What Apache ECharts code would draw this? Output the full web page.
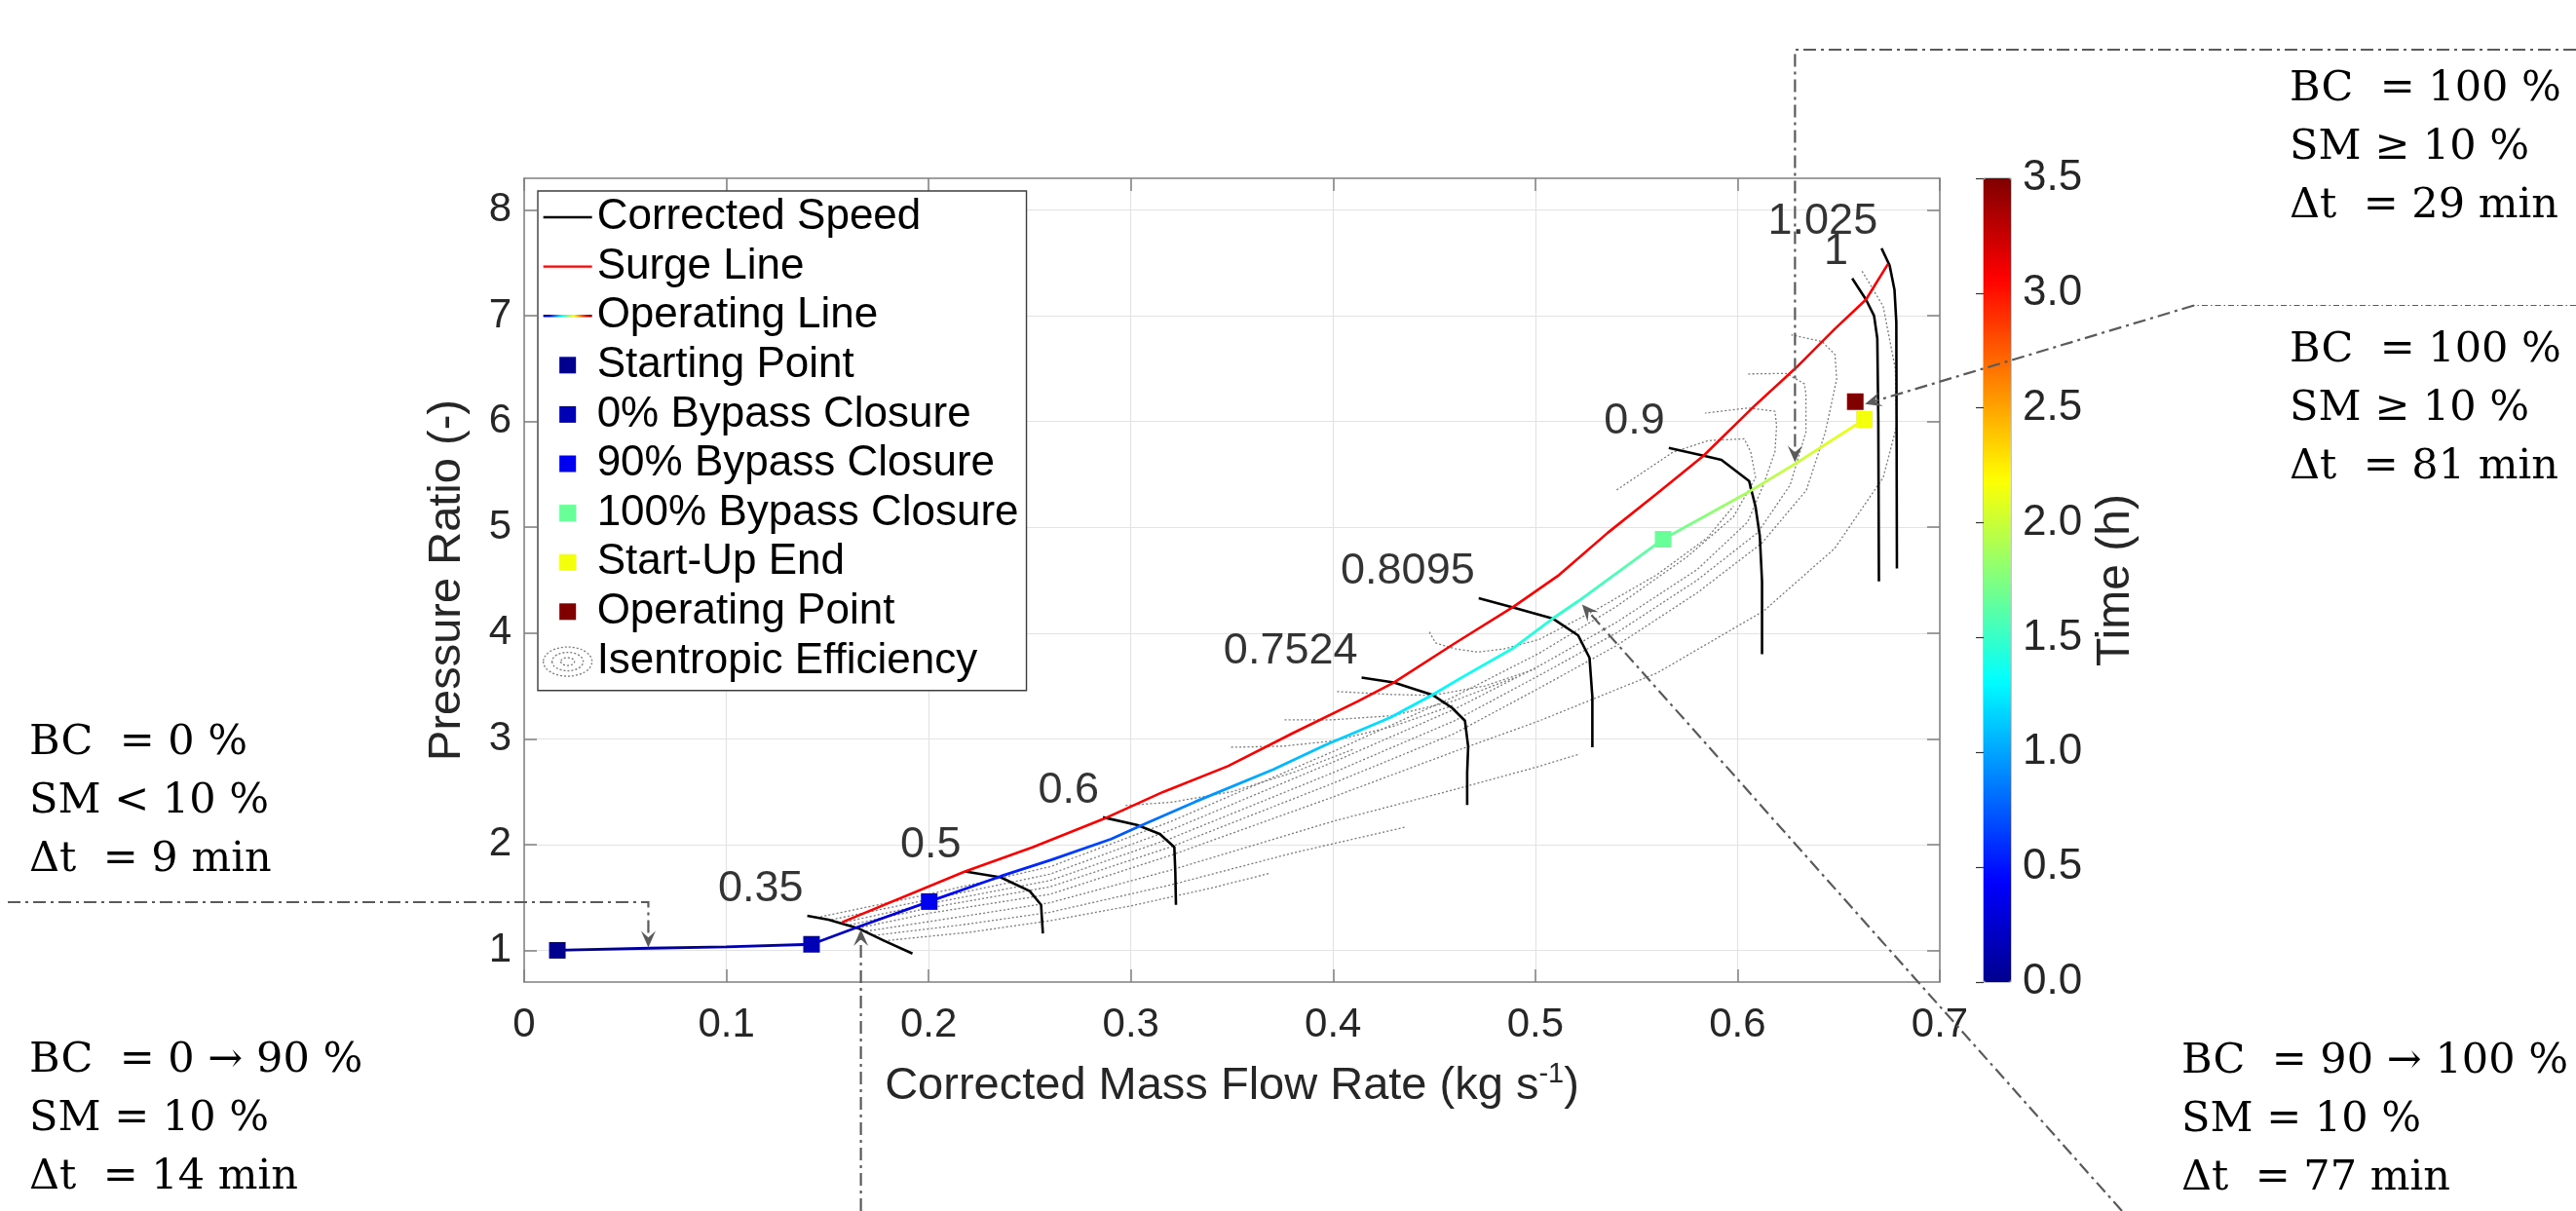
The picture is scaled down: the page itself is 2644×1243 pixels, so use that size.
<!DOCTYPE html>
<html>
<head>
<meta charset="utf-8">
<script src="https://cdn.jsdelivr.net/npm/echarts@6/dist/echarts.min.js"></script>
<style>
html,body{margin:0;padding:0;background:#ffffff;}
#chart{width:2644px;height:1243px;}
</style>
</head>
<body>
<div id="chart"></div>
<script>
// ---------------- DATA ----------------
const yTicks = [1, 2, 3, 4, 5, 6, 7, 8];

// Corrected speed lines [massFlow, pressureRatio]
const speedLabels = ['0.35', '0.5', '0.6', '0.7524', '0.8095', '0.9', '1', '1.025'];
const spd035 = [[0.140,1.326],[0.1505,1.29],[0.165,1.21],[0.178,1.09],[0.192,0.97]];
const spd050 = [[0.218,1.746],[0.2356,1.69],[0.25,1.56],[0.2556,1.43],[0.2565,1.16]];
const spd060 = [[0.2862,2.258],[0.303,2.185],[0.3143,2.10],[0.3215,1.976],[0.322,1.73],[0.3223,1.43]];
const spd07524 = [[0.4141,3.578],[0.43,3.532],[0.4491,3.416],[0.4588,3.293],[0.4652,3.171],[0.4668,2.926],[0.4663,2.68],[0.4663,2.374]];
const spd08095 = [[0.472,4.33],[0.4894,4.24],[0.5088,4.135],[0.5212,3.977],[0.5268,3.765],[0.5282,3.396],[0.5282,2.92]];
const spd090 = [[0.566,5.751],[0.5832,5.677],[0.592,5.637],[0.6057,5.438],[0.6089,5.193],[0.611,4.917],[0.6121,4.488],[0.6121,3.799]];
const spd100 = [[0.6567,7.353],[0.6635,7.153],[0.6675,7.0],[0.6691,6.786],[0.6696,6.02],[0.6699,4.488]];
const spd1025 = [[0.6712,7.638],[0.6752,7.475],[0.6776,7.245],[0.6785,6.94],[0.6788,4.611]];

// Surge line
const surgeLine = [[0.1572,1.265],[0.218,1.746],[0.2516,1.976],[0.2862,2.24],[0.3159,2.497],[0.348,2.742],
  [0.3801,3.054],[0.4122,3.355],[0.43,3.532],[0.4604,3.906],[0.4893,4.25],[0.5118,4.55],[0.5358,4.948],
  [0.5599,5.315],[0.5832,5.677],[0.6081,6.143],[0.629,6.51],[0.6482,6.878],[0.6635,7.153],[0.6744,7.491]];

// Operating line (mass flow, pressure ratio, time in h)
const opX = [0.0164,0.0622,0.0999,0.1421,0.1657,0.2003,0.2356,0.2613,0.2902,0.3046,0.3319,0.3705,0.3961,0.4283,0.4491,0.4636,0.4893,0.5085,0.5214,0.5632,0.6065,0.629,0.6627];
const opY = [1.0,1.02,1.032,1.057,1.225,1.461,1.70,1.86,2.052,2.176,2.405,2.711,2.941,3.201,3.416,3.58,3.86,4.136,4.304,4.887,5.346,5.607,6.02];
const opT = [0,0.055,0.10,0.15,0.25,0.383,0.52,0.60,0.70,0.78,0.92,1.05,1.12,1.22,1.28,1.33,1.40,1.46,1.50,1.667,1.90,2.00,2.15];

// Marked points
const markerNames = ['Starting Point','0% Bypass Closure','90% Bypass Closure','100% Bypass Closure','Start-Up End','Operating Point'];
const markerX = [0.0164, 0.1421, 0.2003, 0.5632, 0.6627, 0.6582];
const markerY = [1.0, 1.057, 1.461, 4.887, 6.02, 6.188];
const markerT = [0, 0.15, 0.3833, 1.6667, 2.15, 3.5];

// Isentropic efficiency contours
const effE1 = [[0.178,1.09],[0.22,1.17],[0.26,1.28],[0.30,1.42],[0.34,1.59],[0.369,1.73]];
const effE2 = [[0.173,1.14],[0.22,1.25],[0.26,1.36],[0.32,1.62],[0.38,1.92],[0.436,2.166]];
const effE3 = [[0.169,1.18],[0.22,1.33],[0.26,1.45],[0.32,1.76],[0.40,2.22],[0.46,2.52],[0.502,2.74],[0.522,2.857]];
const effW1 = [[0.165,1.21],[0.20,1.35],[0.26,1.53],[0.32,1.90],[0.40,2.45],[0.46,2.88],[0.502,3.17],[0.56,3.62],[0.613,4.21],[0.648,4.80],[0.672,5.47],[0.6787,5.96],[0.678,6.5],[0.672,7.09],[0.661,7.44]];
const effUj = [[0.161,1.24],[0.20,1.40],[0.26,1.60],[0.32,1.98],[0.40,2.58],[0.46,3.05],[0.502,3.48],[0.54,3.88],[0.58,4.38],[0.612,4.85],[0.634,5.35],[0.6434,5.9],[0.649,6.4],[0.6482,6.633],[0.6418,6.756],[0.6266,6.82]];
const effUi = [[0.157,1.26],[0.20,1.44],[0.26,1.66],[0.32,2.06],[0.40,2.68],[0.46,3.17],[0.502,3.60],[0.54,4.0],[0.58,4.5],[0.61,4.95],[0.626,5.4],[0.6338,5.9],[0.6338,6.265],[0.633,6.357],[0.6241,6.455],[0.605,6.45]];
const effUh = [[0.152,1.29],[0.20,1.48],[0.26,1.72],[0.32,2.14],[0.40,2.78],[0.46,3.28],[0.502,3.69],[0.54,4.1],[0.58,4.6],[0.605,5.05],[0.6129,5.407],[0.6185,5.714],[0.6193,5.959],[0.6185,6.097],[0.6049,6.128],[0.584,6.08]];
const effUg = [[0.1465,1.317],[0.20,1.53],[0.26,1.79],[0.32,2.22],[0.40,2.88],[0.46,3.40],[0.502,3.81],[0.54,4.25],[0.575,4.72],[0.598,5.1],[0.6089,5.469],[0.6065,5.714],[0.6033,5.836],[0.5856,5.82],[0.568,5.71],[0.54,5.35]];
const effA = [[0.4476,4.01],[0.4507,3.906],[0.4604,3.851],[0.4716,3.82],[0.4845,3.85],[0.502,3.94],[0.53,4.22],[0.56,4.55],[0.585,4.9],[0.598,5.2]];
const effUb = [[0.2974,2.37],[0.32,2.40],[0.35,2.50],[0.38,2.68],[0.41,2.90]];
const effUc = [[0.3496,2.92],[0.375,2.93],[0.40,2.98],[0.43,3.12],[0.46,3.32]];
const effUd = [[0.376,3.18],[0.40,3.18],[0.43,3.22],[0.46,3.36],[0.49,3.58]];
const effUe = [[0.402,3.447],[0.4283,3.42],[0.4491,3.41],[0.475,3.50],[0.50,3.66]];

// Annotations: text lines and target points on the operating line
const annTexts = [
  ['BC  = 0 %', 'SM < 10 %', 'Δt  = 9 min'],
  ['BC  = 0 → 90 %', 'SM = 10 %', 'Δt  = 14 min'],
  ['BC  = 90 → 100 %', 'SM = 10 %', 'Δt  = 77 min'],
  ['BC  = 100 %', 'SM ≥ 10 %', 'Δt  = 29 min'],
  ['BC  = 100 %', 'SM ≥ 10 %', 'Δt  = 81 min']
];
const annTargets = [[0.0614,1.027],[0.1665,1.198],[0.5231,4.27],[0.6284,5.614],[0.663,6.165]];

// ---------------- HELPERS ----------------
const jetStops = ['#00008F','#0000FF','#0080FF','#00FFFF','#80FF80','#FFFF00','#FF8000','#FF0000','#800000'];
const T_MAX = 3.5;
function hex2rgb(h){return [parseInt(h.substr(1,2),16),parseInt(h.substr(3,2),16),parseInt(h.substr(5,2),16)];}
function jet(f){
  f = Math.max(0, Math.min(1, f));
  const pos = f * (jetStops.length - 1);
  const i = Math.min(Math.floor(pos), jetStops.length - 2);
  const fr = pos - i;
  const a = hex2rgb(jetStops[i]), b = hex2rgb(jetStops[i+1]);
  const c = a.map((v,k)=>Math.round(v + (b[k]-v)*fr));
  return 'rgb(' + c.join(',') + ')';
}
const FONT = 'Liberation Sans, Arial, Helvetica, sans-serif';
const SERIF = 'DejaVu Serif, Liberation Serif, serif';

const chart = echarts.init(document.getElementById('chart'), null, {renderer: 'canvas'});

// operating line gradient along mass flow (monotonic)
const xmin = opX[0], xmax = opX[opX.length - 1];
const opStops = opX.map((x, i) => ({offset: (x - xmin) / (xmax - xmin), color: jet(opT[i] / T_MAX)}));
const opGradient = new echarts.graphic.LinearGradient(0, 0, 1, 0, opStops);
const legendGradient = new echarts.graphic.LinearGradient(0, 0, 1, 0,
  jetStops.map((c, i) => ({offset: i / (jetStops.length - 1), color: c})));

// legend icons (box 50 x 46)
const ICON_LINE = 'path://M0,0 M50,46 M0,21.8 L50,21.8 L50,24.2 L0,24.2 Z';
const ICON_SQ = 'path://M0,0 M50,46 M16.5,14.5 L33.5,14.5 L33.5,31.5 L16.5,31.5 Z';
const ICON_ELL = 'path://M0,0 M50,46 M0,23 A25,15 0 1,0 50,23 A25,15 0 1,0 0,23 Z M9,23 A16,9.5 0 1,0 41,23 A16,9.5 0 1,0 9,23 Z M18,23 A7,4 0 1,0 32,23 A7,4 0 1,0 18,23 Z';

const series = [];
// efficiency contours
[effE1, effE2, effE3, effW1, effUj, effUi, effUh, effUg, effA, effUb, effUc, effUd, effUe].forEach(d => {
  series.push({
    name: 'Isentropic Efficiency', type: 'line', xAxisIndex: 0, yAxisIndex: 0,
    data: d, showSymbol: false, symbol: 'none', silent: true, z: 2,
    lineStyle: {color: '#7a7a7a', width: 1.3, type: [2, 2.2]}
  });
});
// speed lines
const speeds = [spd035, spd050, spd060, spd07524, spd08095, spd090, spd100, spd1025];
speeds.forEach(d => {
  series.push({
    name: 'Corrected Speed', type: 'line', data: d, showSymbol: false, symbol: 'none', silent: true, z: 3,
    lineStyle: {color: '#000000', width: 2.6}
  });
});
// speed labels
series.push({
  name: 'speedLabels', type: 'scatter', silent: true, z: 6,
  symbolSize: 0.1, itemStyle: {color: 'rgba(0,0,0,0)'},
  data: speeds.map((d, i) => ({value: d[0], name: speedLabels[i]})),
  label: {show: true, position: 'left', distance: 4, offset: [0, -27], formatter: p => p.name,
    fontSize: 45, fontFamily: FONT, color: '#000'}
});
// surge line
series.push({
  name: 'Surge Line', type: 'line', data: surgeLine, showSymbol: false, symbol: 'none', silent: true, z: 4,
  lineStyle: {color: '#ff0000', width: 2.6}
});
// operating line
series.push({
  name: 'Operating Line', type: 'line', data: opX.map((x, i) => [x, opY[i]]), showSymbol: false, symbol: 'none',
  silent: true, z: 5, lineStyle: {color: opGradient, width: 2.8}
});
// markers
const markerSeriesIdx = [];
markerNames.forEach((n, i) => {
  markerSeriesIdx.push(series.length);
  series.push({
    name: n, type: 'scatter', symbol: 'rect', symbolSize: 17, silent: true, z: 7,
    itemStyle: {color: jet(markerT[i] / T_MAX), opacity: 1},
    data: [[markerX[i], markerY[i], markerT[i]]]
  });
});

const axisGray = '#808080';
const tickLabel = {fontSize: 42, fontFamily: FONT, color: '#262626'};

const option = {
  backgroundColor: '#ffffff',
  animation: false,
  grid: [
    {left: 538, top: 183, width: 1453, height: 825, containLabel: false},
    {left: 2036, top: 183, width: 28, height: 825, show: true, borderColor: '#8c8c8c', borderWidth: 1, backgroundColor: 'transparent'}
  ],
  xAxis: [
    {gridIndex: 0, type: 'value', min: 0, max: 0.7, interval: 0.1,
      name: 'Corrected Mass Flow Rate (kg s{sup|-1})', nameLocation: 'middle', nameGap: 80,
      nameTextStyle: {fontSize: 47, fontFamily: FONT, color: '#262626', lineHeight: 54,
        rich: {sup: {fontSize: 29, fontFamily: FONT, color: '#262626', verticalAlign: 'top', lineHeight: 54}}},
      axisLine: {show: true, onZero: false, lineStyle: {color: axisGray, width: 1.5}},
      axisTick: {show: true, inside: true, length: 13, lineStyle: {color: axisGray, width: 1.5}},
      axisLabel: Object.assign({margin: 23}, tickLabel),
      splitLine: {show: true, lineStyle: {color: '#e3e3e3', width: 1.2}}
    },
    {gridIndex: 0, type: 'value', position: 'top', min: 0, max: 0.7, interval: 0.1,
      axisLine: {show: true, onZero: false, lineStyle: {color: axisGray, width: 1.5}},
      axisTick: {show: true, inside: true, length: 13, lineStyle: {color: axisGray, width: 1.5}},
      axisLabel: {show: false}, splitLine: {show: false}
    },
    {gridIndex: 1, type: 'value', min: 0, max: 1, show: false}
  ],
  yAxis: [
    {gridIndex: 0, type: 'value', min: 0.7, max: 8.3,
      name: 'Pressure Ratio (-)', nameLocation: 'middle', nameGap: 55, nameRotate: 90,
      nameTextStyle: {fontSize: 47, fontFamily: FONT, color: '#262626'},
      axisLine: {show: true, onZero: false, lineStyle: {color: axisGray, width: 1.5}},
      axisTick: {show: true, inside: true, length: 13, customValues: yTicks, lineStyle: {color: axisGray, width: 1.5}},
      axisLabel: Object.assign({margin: 13, customValues: yTicks}, tickLabel),
      splitLine: {show: true, lineStyle: {color: '#e3e3e3', width: 1.2}}
    },
    {gridIndex: 0, type: 'value', position: 'right', min: 0.7, max: 8.3,
      axisLine: {show: true, onZero: false, lineStyle: {color: axisGray, width: 1.5}},
      axisTick: {show: true, inside: true, length: 13, customValues: yTicks, lineStyle: {color: axisGray, width: 1.5}},
      axisLabel: {show: false}, splitLine: {show: false}
    },
    {gridIndex: 1, type: 'value', position: 'right', min: 0, max: T_MAX, interval: 0.5,
      name: 'Time (h)', nameLocation: 'middle', nameGap: 84, nameRotate: 90,
      nameTextStyle: {fontSize: 48, fontFamily: FONT, color: '#262626'},
      axisLine: {show: false},
      axisTick: {show: true, inside: true, length: 8, lineStyle: {color: '#333', width: 1.2}},
      axisLabel: Object.assign({margin: 12, formatter: v => v.toFixed(1)}, tickLabel, {fontSize: 44}),
      splitLine: {show: false}
    }
  ],
  visualMap: {
    type: 'continuous', min: 0, max: T_MAX, dimension: 2, seriesIndex: markerSeriesIdx,
    calculable: false, left: 2036, top: 183, itemWidth: 28, itemHeight: 825, padding: 0,
    text: null, showLabel: false, inRange: {color: jetStops, opacity: 1}, orient: 'vertical', z: 3
  },
  legend: {
    left: 552, top: 196, orient: 'vertical', selectedMode: false,
    padding: [4, 8, 6, 5], itemWidth: 50, itemHeight: 46, itemGap: 4.6,
    backgroundColor: '#ffffff', borderColor: '#3c3c3c', borderWidth: 1.4, z: 10,
    textStyle: {fontSize: 44, fontFamily: FONT, color: '#000000', lineHeight: 46},
    data: [
      {name: 'Corrected Speed', icon: ICON_LINE, itemStyle: {color: '#000000', borderWidth: 0, opacity: 1}},
      {name: 'Surge Line', icon: ICON_LINE, itemStyle: {color: '#ff0000', borderWidth: 0, opacity: 1}},
      {name: 'Operating Line', icon: ICON_LINE, itemStyle: {color: legendGradient, borderWidth: 0, opacity: 1}},
      {name: 'Starting Point', icon: ICON_SQ, itemStyle: {color: jet(markerT[0] / T_MAX), borderWidth: 0, opacity: 1}},
      {name: '0% Bypass Closure', icon: ICON_SQ, itemStyle: {color: jet(markerT[1] / T_MAX), borderWidth: 0, opacity: 1}},
      {name: '90% Bypass Closure', icon: ICON_SQ, itemStyle: {color: jet(markerT[2] / T_MAX), borderWidth: 0, opacity: 1}},
      {name: '100% Bypass Closure', icon: ICON_SQ, itemStyle: {color: jet(markerT[3] / T_MAX), borderWidth: 0, opacity: 1}},
      {name: 'Start-Up End', icon: ICON_SQ, itemStyle: {color: jet(markerT[4] / T_MAX), borderWidth: 0, opacity: 1}},
      {name: 'Operating Point', icon: ICON_SQ, itemStyle: {color: jet(markerT[5] / T_MAX), borderWidth: 0, opacity: 1}},
      {name: 'Isentropic Efficiency', icon: ICON_ELL, itemStyle: {color: 'rgba(255,255,255,0)', borderColor: '#7a7a7a', borderWidth: 1.3, borderType: [2, 2], opacity: 1}}
    ]
  },
  series: series
};

chart.setOption(option);

// ---------------- ANNOTATIONS ----------------
const px = p => chart.convertToPixel({gridIndex: 0}, p);
const LINE_COLOR = '#5a5a5a';
const DASHDOT = [13, 5, 3, 5];
function arrowParts(from, tip, lineWidth, extraPts) {
  const dx = tip[0] - from[0], dy = tip[1] - from[1];
  const len = Math.hypot(dx, dy);
  const d = [dx / len, dy / len], n = [-d[1], d[0]];
  const L = 17, W = 7.5;
  const notch = [tip[0] - 0.6 * L * d[0], tip[1] - 0.6 * L * d[1]];
  const pts = (extraPts || []).concat([from, notch]);
  return [
    {type: 'polyline', silent: true, z: 20, shape: {points: pts},
      style: {stroke: LINE_COLOR, lineWidth: lineWidth, lineDash: DASHDOT, fill: null}},
    {type: 'polygon', silent: true, z: 21, shape: {points: [
      tip,
      [tip[0] - L * d[0] + W * n[0], tip[1] - L * d[1] + W * n[1]],
      notch,
      [tip[0] - L * d[0] - W * n[0], tip[1] - L * d[1] - W * n[1]]
    ]}, style: {fill: LINE_COLOR}}
  ];
}
function textBlock(lines, left, top) {
  return {type: 'text', left: left, top: top, silent: true, z: 20,
    style: {text: lines.join('\n'), fontSize: 43, fontFamily: SERIF, fill: '#000', lineHeight: 60}};
}
const t = annTargets.map(px);
const gfx = [];
// 1: BC = 0 %
gfx.push(...arrowParts([t[0][0], 926], t[0], 2.2, [[8, 926]]));
gfx.push(textBlock(annTexts[0], 30, 733));
// 2: BC = 0 -> 90 %
gfx.push(...arrowParts([t[1][0], 1243], t[1], 2.2));
gfx.push(textBlock(annTexts[1], 30, 1059));
// 3: BC = 90 -> 100 %
gfx.push(...arrowParts([2178, 1243], t[2], 2.2));
gfx.push(textBlock(annTexts[2], 2239, 1060));
// 4: BC = 100 %, 29 min
gfx.push(...arrowParts([t[3][0], 51], t[3], 2.2, [[2644, 51]]));
gfx.push(textBlock(annTexts[3], 2350, 62));
// 5: BC = 100 %, 81 min
gfx.push({type: 'polyline', silent: true, z: 20, shape: {points: [[2644, 313.5], [2252, 313.5]]},
  style: {stroke: LINE_COLOR, lineWidth: 1.1, lineDash: [6, 3, 1.5, 3], fill: null}});
gfx.push(...arrowParts([2252, 313.5], t[4], 2.2));
gfx.push(textBlock(annTexts[4], 2350, 330));

chart.setOption({graphic: {elements: gfx}});
</script>
</body>
</html>
